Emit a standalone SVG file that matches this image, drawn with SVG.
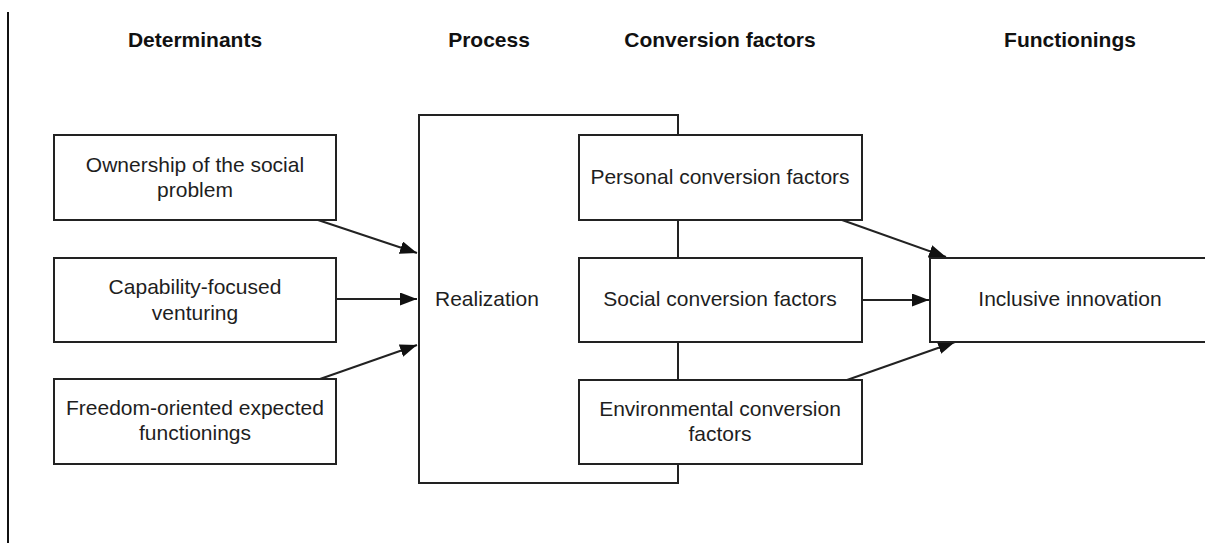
<svg xmlns="http://www.w3.org/2000/svg" width="1205" height="543" viewBox="0 0 1205 543">
<style>
.box{fill:#fff;stroke:#222;stroke-width:2}
.t{font-family:"Liberation Sans",Arial,sans-serif;font-size:21px;fill:#1e1e1e;text-anchor:middle}
.h{font-family:"Liberation Sans",Arial,sans-serif;font-size:21px;font-weight:bold;fill:#111;text-anchor:middle}
.c{stroke:#222;stroke-width:2;fill:none}
.a{stroke:#222;stroke-width:2;fill:none;marker-end:url(#ah)}
</style>
<defs>
<marker id="ah" markerUnits="userSpaceOnUse" markerWidth="18" markerHeight="13" refX="17" refY="6.5" orient="auto">
<path d="M0,0 L17,6.5 L0,13 z" fill="#111"/>
</marker>
</defs>
<rect width="1205" height="543" fill="#fff"/>
<line x1="8" y1="12" x2="8" y2="543" stroke="#111" stroke-width="2"/>
<g id="headers">
<text class="h" x="195" y="47">Determinants</text>
<text class="h" x="489" y="47">Process</text>
<text class="h" x="720" y="47">Conversion factors</text>
<text class="h" x="1070" y="47">Functionings</text>
</g>
<g id="process">
<rect class="box" x="419" y="115" width="259" height="368"/>
<text class="t" x="435" y="306" style="text-anchor:start">Realization</text>
</g>
<g id="connectors">
<line class="c" x1="678" y1="220" x2="678" y2="258"/>
<line class="c" x1="678" y1="342" x2="678" y2="380"/>
<line class="a" x1="318" y1="220" x2="417" y2="253"/>
<line class="a" x1="336" y1="299" x2="417" y2="299"/>
<line class="a" x1="320" y1="379" x2="417" y2="345"/>
<line class="a" x1="842" y1="220" x2="946" y2="257"/>
<line class="a" x1="862" y1="300" x2="929" y2="300"/>
<line class="a" x1="847" y1="380" x2="955" y2="342"/>
</g>
<g id="ownership">
<rect class="box" x="54" y="135" width="282" height="85"/>
<text class="t" x="195" y="172">Ownership of the social</text>
<text class="t" x="195" y="197">problem</text>
</g>
<g id="capability">
<rect class="box" x="54" y="258" width="282" height="84"/>
<text class="t" x="195" y="294">Capability-focused</text>
<text class="t" x="195" y="320">venturing</text>
</g>
<g id="freedom">
<rect class="box" x="54" y="379" width="282" height="85"/>
<text class="t" x="195" y="415">Freedom-oriented expected</text>
<text class="t" x="195" y="440">functionings</text>
</g>
<g id="personal">
<rect class="box" x="579" y="135" width="283" height="85"/>
<text class="t" x="720" y="184">Personal conversion factors</text>
</g>
<g id="social">
<rect class="box" x="579" y="258" width="283" height="84"/>
<text class="t" x="720" y="306">Social conversion factors</text>
</g>
<g id="environmental">
<rect class="box" x="579" y="380" width="283" height="84"/>
<text class="t" x="720" y="416">Environmental conversion</text>
<text class="t" x="720" y="441">factors</text>
</g>
<g id="inclusive">
<rect class="box" x="930" y="258" width="290" height="84"/>
<text class="t" x="1070" y="306">Inclusive innovation</text>
</g>
</svg>
